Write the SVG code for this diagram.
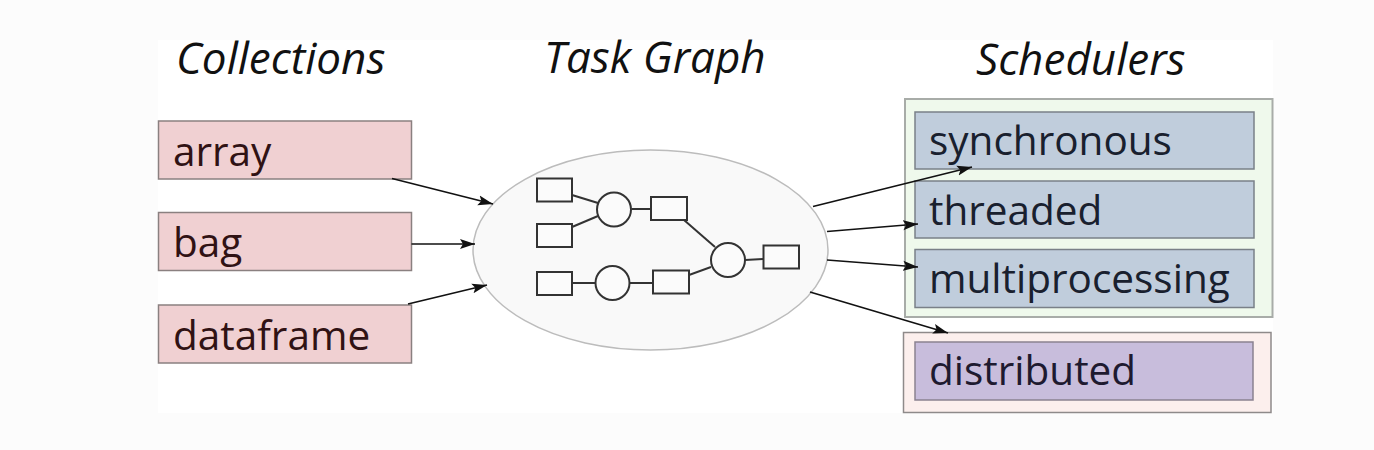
<svg xmlns="http://www.w3.org/2000/svg" width="1374" height="450" viewBox="0 0 1374 450">
<style>
.title{font-family:"Open Sans",sans-serif;font-style:italic;font-size:44px;fill:#111}
.lbl{font-family:"Open Sans",sans-serif;font-size:40.5px}
.col{fill:#f0d0d2;stroke:#8a8080;stroke-width:1.5}
.sch{fill:#c0cddc;stroke:#7a8088;stroke-width:1.5}
.dist{fill:#c8bddc;stroke:#8a8290;stroke-width:1.5}
.g{fill:none;stroke:#333;stroke-width:2}
.gb{fill:#fbfbfb;stroke:#333;stroke-width:2}
.arr{fill:none;stroke:#111;stroke-width:1.7;marker-end:url(#ah)}
</style>
<defs>
<marker id="ah" markerUnits="userSpaceOnUse" markerWidth="16" markerHeight="12" refX="15" refY="6" orient="auto">
<path d="M0,1 L15,6 L0,11 L3,6 Z" fill="#111"/>
</marker>
</defs>
<rect x="0" y="0" width="1374" height="450" fill="#fcfcfc"/>
<rect x="158" y="40" width="1115" height="373" fill="#ffffff"/>
<g id="titles">
<text class="title" x="176" y="74">Collections</text>
<text class="title" x="544" y="73">Task Graph</text>
<text class="title" x="976" y="75">Schedulers</text>
</g>
<g id="array"><rect class="col" x="158.5" y="121" width="253" height="58"/><text class="lbl" x="173" y="166" fill="#301214">array</text></g>
<g id="bag"><rect class="col" x="158.5" y="212.5" width="253" height="58"/><text class="lbl" x="173" y="257" fill="#301214">bag</text></g>
<g id="dataframe"><rect class="col" x="158.5" y="305" width="253" height="58"/><text class="lbl" x="173" y="350" fill="#301214">dataframe</text></g>
<g id="taskgraph">
<ellipse cx="650.5" cy="250" rx="177.5" ry="100" fill="#f9f9f9" stroke="#bcbcbc" stroke-width="1.5"/>
<g class="g">
<line x1="572" y1="195" x2="598" y2="203"/>
<line x1="572" y1="227" x2="598" y2="216"/>
<line x1="631.5" y1="209" x2="651" y2="209"/>
<line x1="684" y1="220" x2="715" y2="247"/>
<line x1="689" y1="275" x2="711" y2="267"/>
<line x1="745" y1="260" x2="763" y2="259"/>
<line x1="572" y1="283" x2="595" y2="283"/>
<line x1="629" y1="283" x2="653" y2="283"/>
</g>
<rect class="gb" x="537" y="178.5" width="35" height="23"/>
<rect class="gb" x="537" y="224" width="35" height="23"/>
<rect class="gb" x="537" y="272" width="35" height="23"/>
<rect class="gb" x="651" y="197" width="36" height="23"/>
<rect class="gb" x="653" y="270.5" width="36" height="23"/>
<rect class="gb" x="763.5" y="245.5" width="35.5" height="23"/>
<circle class="gb" cx="614" cy="209.5" r="17"/>
<circle class="gb" cx="612.5" cy="283" r="17"/>
<circle class="gb" cx="728" cy="260" r="17"/>
</g>
<g id="schedulers">
<rect x="905" y="99" width="367.5" height="218" fill="#eff9ec" stroke="#a8aca8" stroke-width="2"/>
</g>
<g id="synchronous"><rect class="sch" x="915" y="112" width="339" height="57"/><text class="lbl" x="929" y="155" fill="#19202e">synchronous</text></g>
<g id="threaded"><rect class="sch" x="915" y="181" width="339" height="57"/><text class="lbl" x="929" y="225" fill="#19202e">threaded</text></g>
<g id="multiprocessing"><rect class="sch" x="915" y="249.5" width="339" height="58"/><text class="lbl" x="929" y="293" fill="#19202e">multiprocessing</text></g>
<g id="distributed-group">
<rect x="903.5" y="332.5" width="367.5" height="80" fill="#fcefed" stroke="#8e8a8a" stroke-width="1.5"/>
</g>
<g id="distributed"><rect class="dist" x="915" y="342" width="338" height="58"/><text class="lbl" x="929" y="385" fill="#1e1a30">distributed</text></g>
<g id="connectors">
<line class="arr" x1="392" y1="178.5" x2="493" y2="204"/>
<line class="arr" x1="411.5" y1="244" x2="475" y2="244"/>
<line class="arr" x1="408" y1="304" x2="487" y2="285"/>
<line class="arr" x1="813" y1="206.5" x2="972" y2="167"/>
<line class="arr" x1="827" y1="231.5" x2="918" y2="224"/>
<line class="arr" x1="827" y1="260" x2="918" y2="267"/>
<line class="arr" x1="810" y1="292" x2="948" y2="333"/>
</g>
</svg>
